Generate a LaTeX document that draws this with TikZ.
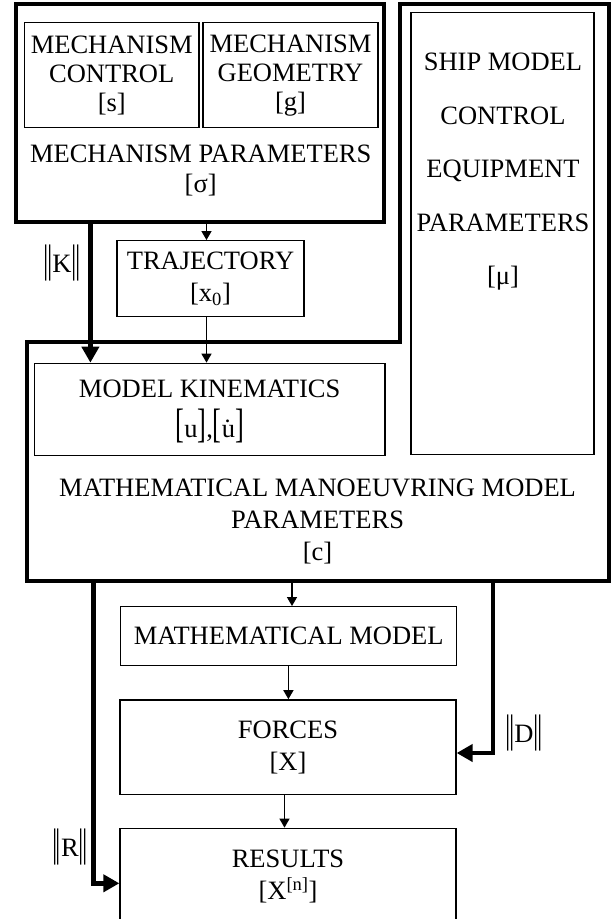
\documentclass[tikz,border=0pt]{standalone}
\usepackage{fontspec}
\setmainfont{Liberation Serif}
\usepackage{graphicx}
\usetikzlibrary{arrows.meta,calc}
\newcommand\fz[1]{\fontsize{26.5}{#1}\selectfont}
\newcommand\dbl{\scalebox{1}[1.5]{|\kern-0.06em|}}
\newcommand\bigbr[1]{\scalebox{1}[1.55]{#1}}
\begin{document}
\begin{tikzpicture}[x=1pt,y=-1pt,
 box/.style={draw,line width=1.3pt,inner sep=0pt,align=center,font=\fz{32pt}},
 mbox/.style={box,font=\fz{29pt}},
 tarr/.style={line width=1.3pt,-{Triangle[length=9pt,width=10pt]}},
 karr/.style={line width=4.5pt,-{Triangle[length=16pt,width=17pt]}},
 lbl/.style={inner sep=0pt,align=center,font=\fz{32pt}}]
\fill[white] (0,0) rectangle (611,919);
\clip (0,0) rectangle (611,919);
% mechanism parameters container
\node[draw,line width=4pt,inner sep=0pt,minimum width=368.4pt,minimum height=218pt] (mp) at (199.8,113) {};
\node[mbox,minimum width=174.5pt,minimum height=105pt] (mc) at (111.75,75.2) {MECHANISM\\CONTROL\\{[}s{]}};
\node[mbox,minimum width=175pt,minimum height=105pt] (mg) at (290.5,75.2) {MECHANISM\\GEOMETRY\\{[}g{]}};
\node[lbl,font=\fz{30pt}] (mpt) at (200.7,170) {MECHANISM PARAMETERS\\{[}σ{]}};
% mathematical manoeuvring model parameters container
\draw[line width=4pt,line join=miter] (399.5,4) -- (609,4) -- (609,581) -- (26.5,581) -- (26.5,342) -- (399.5,342) -- cycle;
\coordinate (Rtop) at (93.5,581);
\coordinate (Mtop) at (292,581);
\coordinate (Dtop) at (493,581);
\node[lbl] (mmt) at (317.6,521) {MATHEMATICAL MANOEUVRING MODEL\\PARAMETERS\\{[}c{]}};
% ship model box
\node[box,minimum width=183pt,minimum height=441.6pt] (ship) at (502.5,233.5) {};
\node[lbl,font=\fz{53.5pt}] (shipt) at (503,172) {SHIP MODEL\\CONTROL\\EQUIPMENT\\PARAMETERS\\{[}μ{]}};
% trajectory
\node[box,minimum width=187pt,minimum height=76pt] (traj) at (210.5,278.7) {TRAJECTORY\\{[}x\textsubscript{0}{]}};
% model kinematics
\node[box,minimum width=350.7pt,minimum height=92.4pt] (kin) at (209.65,409.5) {};
\node[lbl] (kint) at (209.65,389) {MODEL KINEMATICS};
\node[lbl] (kinv) at (209.65,426) {\bigbr{[}u\bigbr{]},\bigbr{[}\.u\bigbr{]}};
% lower chain
\node[box,minimum width=336pt,minimum height=59pt] (mm) at (288.7,636.2) {MATHEMATICAL MODEL};
\node[box,minimum width=336pt,minimum height=94.3pt] (forces) at (288,747) {FORCES\\{[}X{]}};
\node[box,minimum width=336pt,minimum height=96pt] (res) at (288,876.3) {RESULTS\\{[}X\textsuperscript{[n]}{]}};
% labels
\node[lbl] (klab) at (62,263) {\dbl K\dbl};
\node[lbl] (dlab) at (524,733) {\dbl D\dbl};
\node[lbl] (rlab) at (70,847) {\dbl R\dbl};
% thin arrows
\draw[tarr] (206.5,0 |- mp.south) -- (206.5,0 |- traj.north);
\draw[tarr] (206.5,0 |- traj.south) -- (206.5,0 |- kin.north);
\draw[tarr] (Mtop) -- (Mtop |- mm.north);
\draw[tarr] (288.4,0 |- mm.south) -- (288.4,0 |- forces.north);
\draw[tarr] (284.5,0 |- forces.south) -- (284.5,0 |- res.north);
% thick arrows
\draw[karr] (90.4,0 |- mp.south) -- (90.4,0 |- kin.north);
\draw[karr,line join=miter] (Dtop) |- ($(forces.east)+(0,6)$);
\draw[karr,line join=miter] (Rtop) |- ($(res.west)+(0,7)$);
\end{tikzpicture}
\end{document}
